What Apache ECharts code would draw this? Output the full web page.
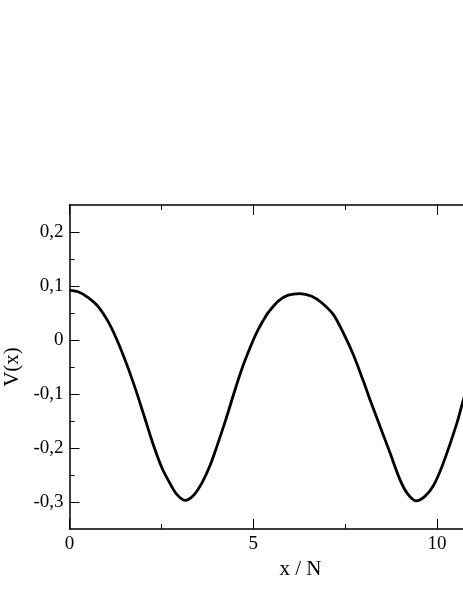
<!DOCTYPE html>
<html>
<head>
<meta charset="utf-8">
<script src="https://cdn.jsdelivr.net/npm/echarts@6/dist/echarts.min.js"></script>
<style>
  html, body { margin: 0; padding: 0; background: #fff; }
  #chart { width: 463px; height: 599px; }
</style>
</head>
<body>
<div id="chart"></div>
<script>
// values
var xValues = [0.00, 0.25, 0.50, 0.78, 1.06, 1.33, 1.60, 1.83, 2.05, 2.28, 2.51, 2.73, 2.92, 3.14,
  3.37, 3.60, 3.82, 4.01, 4.25, 4.50, 4.73, 5.00, 5.14, 5.27, 5.41, 5.68, 5.95, 6.27,
  6.59, 6.86, 7.18, 7.45, 7.72, 8.00, 8.20, 8.45, 8.72, 9.00, 9.20, 9.43,
  9.66, 9.90, 10.17, 10.54, 10.72, 11.00];
var vValues = [0.092, 0.089, 0.079, 0.062, 0.033, -0.006, -0.053, -0.098, -0.145, -0.194, -0.236, -0.265, -0.286, -0.297,
  -0.288, -0.265, -0.233, -0.197, -0.148, -0.093, -0.046, 0.000, 0.020, 0.036, 0.051, 0.072, 0.083, 0.086,
  0.081, 0.069, 0.047, 0.013, -0.027, -0.077, -0.115, -0.160, -0.209, -0.260, -0.285, -0.298,
  -0.290, -0.270, -0.228, -0.154, -0.110, -0.050];

var xMajorTicks = [0, 5, 10];
var xMinorTicks = [2.5, 7.5];
var yMajorTicks = [-0.3, -0.2, -0.1, 0, 0.1, 0.2];
var yMinorTicks = [-0.25, -0.15, -0.05, 0.05, 0.15];

var xMin = 0, xMax = 12.57;
var yMin = -0.35, yMax = 0.25;
var fontName = 'Liberation Serif';

function commaFormat(val) {
  var s = String(Math.round(val * 10) / 10)
  return s.replace('.', ',')
}

function makeXAxis(pos, ticks, len, showLine, showLabel) {
  return {
    type: 'value', position: pos, min: xMin, max: xMax,
    splitLine: { show: false },
    axisLine: { show: showLine, onZero: false, lineStyle: { color: '#000', width: 1.5 } },
    axisTick: { show: true, inside: true, length: len, customValues: ticks, lineStyle: { color: '#000', width: 1 } },
    axisLabel: { show: showLabel, customValues: ticks, margin: 6, color: '#000', fontFamily: fontName, fontSize: 19 }
  };
}

function makeYAxis(pos, ticks, len, showLine, showLabel) {
  return {
    type: 'value', position: pos, min: yMin, max: yMax,
    splitLine: { show: false },
    axisLine: { show: showLine, onZero: false, lineStyle: { color: '#000', width: 1.5 } },
    axisTick: { show: true, inside: true, length: len, customValues: ticks, lineStyle: { color: '#000', width: 1 } },
    axisLabel: { show: showLabel, customValues: ticks, margin: 6, color: '#000', fontFamily: fontName, fontSize: 19,
      formatter: commaFormat }
  };
}

var chart = echarts.init(document.getElementById('chart'), null, { renderer: 'canvas' });

var xAxes = [
  makeXAxis('bottom', xMajorTicks, 10, true, true),
  makeXAxis('bottom', xMinorTicks, 5, false, false),
  makeXAxis('top', xMajorTicks, 10, true, false),
  makeXAxis('top', xMinorTicks, 5, false, false)
];
xAxes[0].name = 'x / N';
xAxes[0].nameLocation = 'middle';
xAxes[0].nameGap = 28;
xAxes[0].nameTextStyle = { color: '#000', fontFamily: fontName, fontSize: 21 };

var yAxes = [
  makeYAxis('left', yMajorTicks, 10, true, true),
  makeYAxis('left', yMinorTicks, 5, false, false)
];
yAxes[0].name = 'V(x)';
yAxes[0].nameLocation = 'middle';
yAxes[0].nameGap = 46;
yAxes[0].nameTextStyle = { color: '#000', fontFamily: fontName, fontSize: 21 };

var points = [];
for (var i = 0; i < xValues.length; i++) {
  points.push([xValues[i], vValues[i]]);
}

var option = {
  animation: false,
  backgroundColor: '#fff',
  grid: { left: 69.5, top: 205, width: 462, height: 324, containLabel: false, outerBoundsMode: 'none' },
  xAxis: xAxes,
  yAxis: yAxes,
  series: [{
    type: 'line',
    xAxisIndex: 0,
    yAxisIndex: 0,
    data: points,
    smooth: 0.3,
    showSymbol: false,
    clip: true,
    lineStyle: { color: '#000', width: 2.8 }
  }]
};
chart.setOption(option);
</script>
</body>
</html>
